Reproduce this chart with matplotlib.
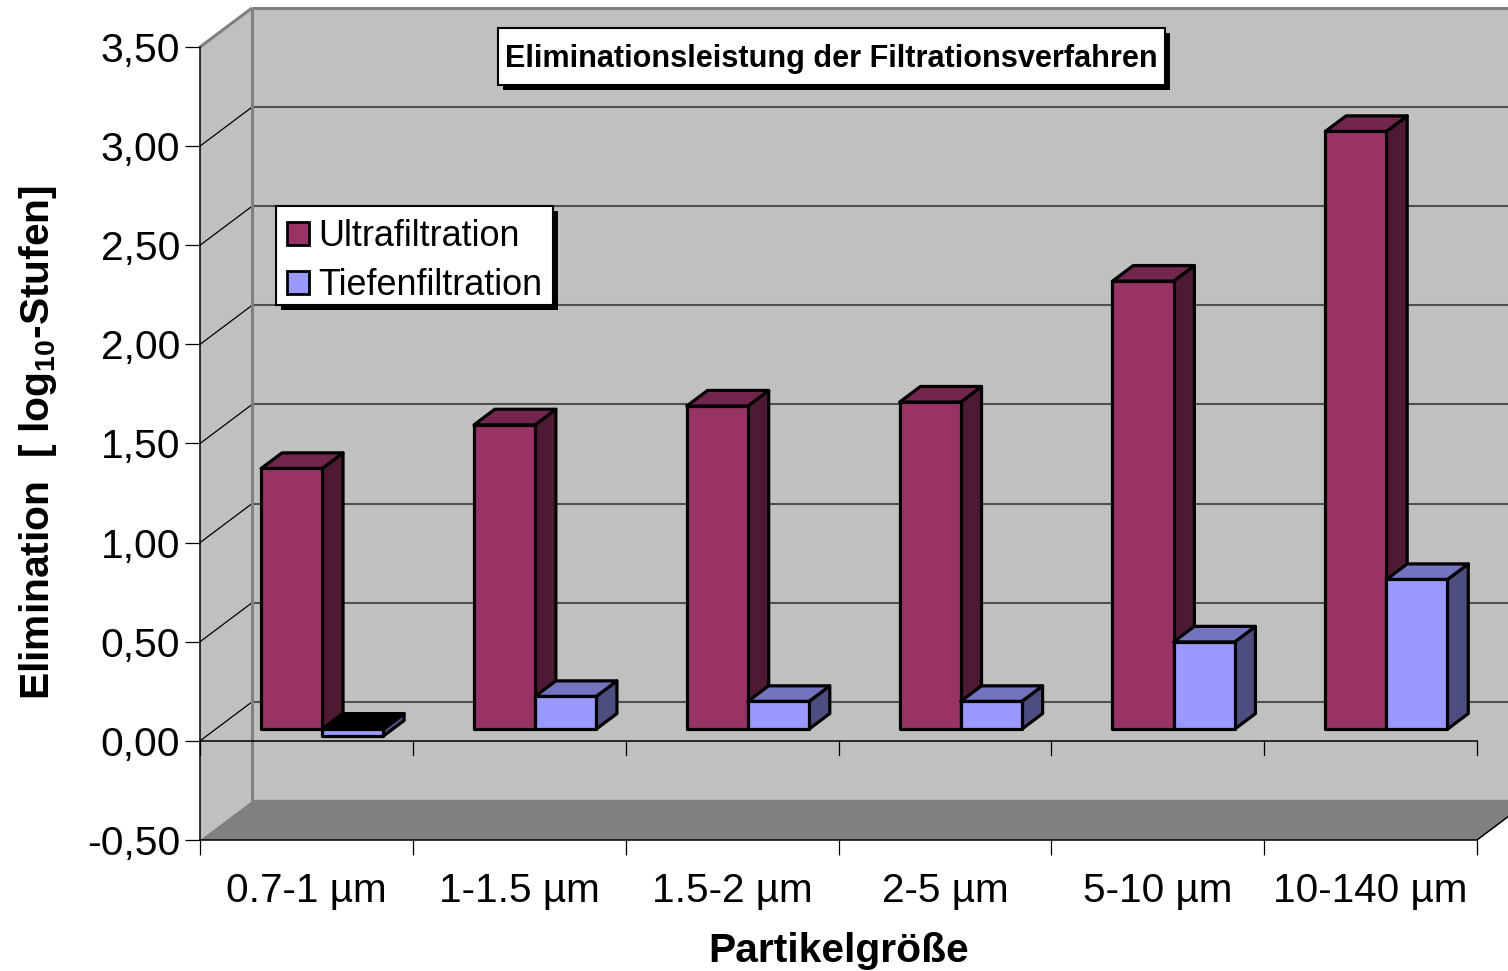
import matplotlib
matplotlib.use("Agg")
import matplotlib.pyplot as plt
from matplotlib.patches import Polygon, Rectangle, Patch
from matplotlib.transforms import Affine2D

plt.rcParams['font.family'] = ['Liberation Sans', 'DejaVu Sans']
plt.rcParams['mathtext.fontset'] = 'custom'
plt.rcParams['mathtext.bf'] = 'Liberation Sans:bold'

categories = ['0.7-1 µm', '1-1.5 µm', '1.5-2 µm', '2-5 µm', '5-10 µm', '10-140 µm']
ultra = [1.315, 1.535, 1.63, 1.65, 2.26, 3.015]
tiefen = [-0.035, 0.165, 0.14, 0.14, 0.44, 0.755]
y_ticks = [-0.5, 0, 0.5, 1, 1.5, 2, 2.5, 3, 3.5]

W, H = 1508, 971
fig = plt.figure(figsize=(W / 100, H / 100), dpi=100, facecolor='white')
ax = fig.add_axes([200 / W, (H - 840) / H, 1277 / W, 793 / H])
ax.set_xlim(0, 6)
ax.set_ylim(-0.5, 3.5)
ax.patch.set_visible(False)

# depth of the fake 3d box, in pixels
DX, DY = 52, 39
BAR_W = 0.287
BAR_SHIFT = 0.001
D0, D1 = 0.30, 0.70

px = Affine2D().scale(1, -1).translate(0, H)


def proj(x, y, d=0.0):
    p = ax.transData.transform((x, y))
    return (p[0] + d * DX, p[1] + d * DY)


def face(points, fc, ec='none', lw=0, z=1):
    pts = [proj(*p) for p in points]
    ax.add_patch(Polygon(pts, closed=True, transform=None, facecolor=fc,
                         edgecolor=ec, linewidth=lw, joinstyle='round',
                         clip_on=False, zorder=z))


def line(a, b, color, lw, z=1.5):
    pa, pb = proj(*a), proj(*b)
    ax.plot([pa[0], pb[0]], [pa[1], pb[1]], color=color, lw=lw, transform=None,
            clip_on=False, zorder=z, solid_capstyle='butt')


def bar3d(x0, v, front, top, side, z):
    x1 = x0 + BAR_W
    # the face seen from above is black when the bar points downwards
    upper = max(v, 0)
    top_c = 'black' if v < 0 else top
    lw = 2.3
    face([(x1, 0, D0), (x1, v, D0), (x1, v, D1), (x1, 0, D1)], side, 'black', lw, z)
    face([(x1, upper, D0), (x1, upper, D1), (x0, upper, D1), (x0, upper, D0)], top_c, 'black', lw, z)
    face([(x0, 0, D0), (x1, 0, D0), (x1, v, D0), (x0, v, D0)], front, 'black', lw, z)


# walls and floor
face([(0, -0.5, 1), (6, -0.5, 1), (6, 3.5, 1), (0, 3.5, 1)], '#C0C0C0')
face([(0, -0.5, 0), (0, -0.5, 1), (0, 3.5, 1), (0, 3.5, 0)], '#C0C0C0')
face([(0, -0.5, 0), (6, -0.5, 0), (6, -0.5, 1.03), (0, -0.5, 1.03)], '#808080')

for t in y_ticks[1:-1]:
    line((0, t, 1), (6, t, 1), '#505050', 1.5)
    line((0, t, 0), (0, t, 1), 'black', 0.9)
line((0, 3.5, 1), (6, 3.5, 1), '#808080', 2.2)
line((0, 3.5, 0), (0, 3.5, 1), '#808080', 2.2)
line((0, -0.5, 1), (0, 3.5, 1), '#808080', 2.2)
line((6, -0.5, 0), (6, -0.5, 1), 'black', 1.1)

# axes
for s in ['top', 'right']:
    ax.spines[s].set_visible(False)
ax.spines['left'].set_linewidth(1.1)
ax.spines['bottom'].set_linewidth(1.1)
ax.axhline(0, color='black', lw=1.1, zorder=1.6, clip_on=False)

ax.set_yticks(y_ticks)
ax.set_yticklabels([f'{t:.2f}'.replace('.', ',') for t in y_ticks])
ax.tick_params(axis='y', length=10.8, width=0.9, pad=3.5, labelsize=29.4)

ax.set_xticks([i + 0.5 for i in range(6)])
ax.set_xticklabels(categories)
ax.tick_params(axis='x', which='major', length=0, pad=22.7, labelsize=29.2)
ax.set_xticks(range(7), minor=True)
ax.tick_params(axis='x', which='minor', length=10.8, width=0.9)
# the second row of x ticks hanging from the zero line
for i in range(7):
    ax.plot([i, i], [0, -14 / 198.25], color='black', lw=0.9, clip_on=False, zorder=1.6)

# bars
for i in range(6):
    x_mid = i + 0.5 + BAR_SHIFT
    bar3d(x_mid - BAR_W, ultra[i], '#993366', '#73264D', '#4D1933', 3 + i * 0.1)
    bar3d(x_mid, tiefen[i], '#9999FF', '#7373BF', '#4D4D80', 3 + i * 0.1 + 0.05)

# title box
fig.add_artist(Rectangle((503, 33), 667, 57, transform=px, facecolor='black', edgecolor='none', zorder=5))
fig.add_artist(Rectangle((498, 28), 667, 57, transform=px, facecolor='white', edgecolor='black', lw=1.5, zorder=5))
fig.text(831 / W, 1 - 59 / H, 'Eliminationsleistung der Filtrationsverfahren',
         fontsize=22.1, fontweight='bold', ha='center', va='center', zorder=6)

# legend box
fig.add_artist(Rectangle((281, 211), 277, 99, transform=px, facecolor='black', edgecolor='none', zorder=5))
fig.add_artist(Rectangle((276, 206), 277, 99, transform=px, facecolor='white', edgecolor='black', lw=1.5, zorder=5))
handles = [Patch(facecolor='#993366', edgecolor='black', lw=2, label='Ultrafiltration'),
           Patch(facecolor='#9999FF', edgecolor='black', lw=2, label='Tiefenfiltration')]
leg = fig.legend(handles=handles, loc='upper left', bbox_to_anchor=(287 / W, 1 - 219 / H),
                 frameon=False, fontsize=25.9, handlelength=0.62, handleheight=0.62,
                 handletextpad=0.25, labelspacing=0.39, borderpad=0, borderaxespad=0)
leg.set_zorder(7)

# axis titles
fig.text(839 / W, 1 - 951 / H, 'Partikelgröße', fontsize=29.3, fontweight='bold',
         ha='center', va='center')
fig.text(38 / W, 1 - 442 / H, r'Elimination  [ log$_{\mathbf{10}}$-Stufen]', fontsize=29.3,
         fontweight='bold', rotation=90, ha='center', va='center')

fig.savefig('out.png', dpi=100)
